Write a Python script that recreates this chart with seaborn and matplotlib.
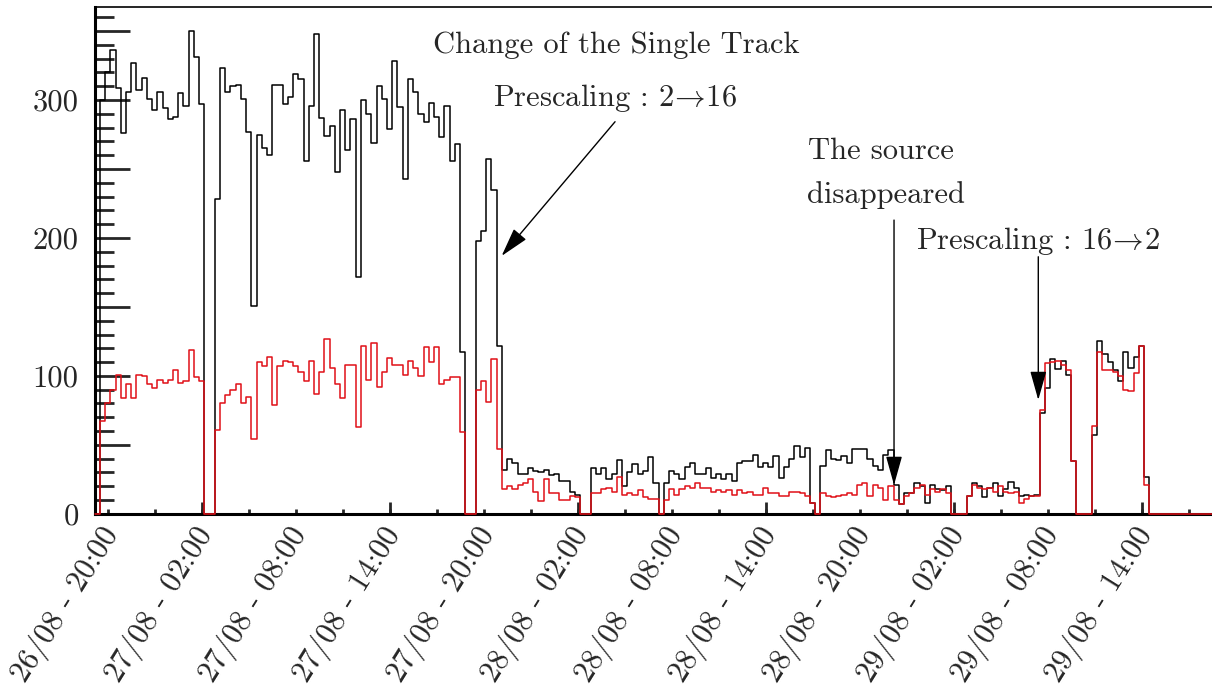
import numpy as np
import pandas as pd
import seaborn as sns
import matplotlib.pyplot as plt
from matplotlib.ticker import MultipleLocator
from matplotlib.transforms import ScaledTranslation

# Style: ROOT-like frame, Computer Modern text
sns.set_style("white")
plt.rcParams['font.family'] = ['cmr10']
plt.rcParams['mathtext.fontset'] = 'cm'
plt.rcParams['axes.unicode_minus'] = False
plt.rcParams['axes.formatter.use_mathtext'] = True

# Time axis in hours since 26/08 20:00, 20 minute bins
first_edge = -5 / 6
bin_width = 1 / 3

# Trigger rates per bin (black: all triggers, red: single track)
black_rate = [0,
    300, 320, 336, 309, 276, 306, 327, 307, 316, 301,
    293, 306, 294, 286, 288, 305, 296, 350, 331, 297,
    0, 0, 228, 323, 306, 310, 311, 301, 277, 151,
    275, 265, 260, 311, 311, 297, 302, 319, 315, 256,
    296, 348, 287, 274, 281, 248, 293, 264, 286, 172,
    300, 290, 269, 310, 301, 279, 328, 295, 243, 315,
    306, 290, 284, 298, 288, 273, 296, 256, 268, 117,
    0, 0, 198, 205, 257, 235, 122, 32, 40, 37,
    29, 29, 33, 31, 30, 32, 28, 29, 24, 24,
    16, 14, 0, 0, 33, 29, 33, 25, 29, 39,
    20, 30, 36, 29, 31, 41, 22, 0, 22, 31,
    29, 25, 34, 37, 29, 29, 33, 26, 29, 25,
    29, 24, 37, 38, 38, 43, 34, 37, 34, 42,
    26, 34, 40, 49, 41, 48, 8, 0, 35, 46,
    40, 39, 42, 37, 47, 47, 47, 40, 35, 32,
    43, 46, 21, 7, 15, 15, 22, 20, 8, 21,
    18, 17, 20, 0, 0, 0, 13, 22, 20, 12,
    19, 22, 13, 18, 23, 19, 13, 14, 13, 14,
    73, 91, 112, 105, 111, 101, 38, 0, 0, 0,
    57, 125, 116, 110, 104, 96, 117, 106, 114, 122,
    27,
    0, 0, 0, 0, 0, 0, 0, 0, 0, 0, 0, 0]

red_rate = [0,
    67, 80, 90, 101, 84, 94, 84, 101, 100, 94,
    91, 97, 95, 97, 104, 95, 96, 119, 99, 96,
    0, 0, 61, 80, 86, 90, 94, 80, 85, 54,
    110, 107, 114, 79, 107, 111, 110, 107, 103, 96,
    111, 87, 103, 127, 106, 94, 84, 108, 108, 63,
    122, 97, 124, 92, 103, 113, 108, 108, 101, 111,
    106, 100, 121, 110, 121, 94, 97, 99, 99, 59,
    0, 0, 90, 96, 81, 112, 47, 18, 20, 18,
    21, 22, 25, 16, 9, 25, 15, 15, 10, 10,
    13, 12, 0, 0, 15, 15, 18, 19, 16, 27,
    14, 15, 14, 17, 12, 11, 11, 0, 10, 18,
    14, 18, 20, 19, 22, 19, 19, 16, 17, 16,
    17, 14, 17, 15, 16, 14, 14, 19, 15, 15,
    13, 13, 16, 16, 15, 13, 8, 0, 15, 13,
    12, 13, 14, 15, 14, 21, 22, 13, 21, 19,
    10, 20, 10, 7, 13, 15, 19, 21, 14, 18,
    16, 18, 15, 0, 0, 0, 13, 21, 19, 18,
    19, 16, 20, 16, 15, 16, 8, 11, 13, 13,
    75, 109, 110, 111, 108, 104, 38, 0, 0, 0,
    64, 117, 104, 104, 103, 100, 90, 89, 102, 122,
    21,
    0, 0, 0, 0, 0, 0, 0, 0, 0, 0, 0, 0]

x_tick_hours = [0, 6, 12, 18, 24, 30, 36, 42, 48, 54, 60, 66]
x_tick_labels = ['26/08 - 20:00', '27/08 - 02:00', '27/08 - 08:00', '27/08 - 14:00',
                 '27/08 - 20:00', '28/08 - 02:00', '28/08 - 08:00', '28/08 - 14:00',
                 '28/08 - 20:00', '29/08 - 02:00', '29/08 - 08:00', '29/08 - 14:00']
long_tick_hours = [6, 18, 30, 42, 54, 66]
y_ticks = [0, 50, 100, 150, 200, 250, 300, 350]
y_tick_labels = ['0', '', '100', '', '200', '', '300', '']

edges = first_edge + bin_width * np.arange(len(black_rate) + 1)
df = pd.DataFrame({'hour': edges[:-1] + bin_width / 2,
                   'black': black_rate, 'red': red_rate})

fig = plt.figure(figsize=(12.12, 6.92), dpi=100)
ax = fig.add_axes([0.0781, 0.2575, 0.9219, 0.7318])

sns.histplot(data=df, x='hour', weights='black', bins=list(edges), element='step',
             fill=False, color='#000000', linewidth=1.1, ax=ax)
sns.histplot(data=df, x='hour', weights='red', bins=list(edges), element='step',
             fill=False, color='#e01018', linewidth=1.1, ax=ax)
for line in ax.lines:
    line.set_clip_on(False)
    line.set_zorder(3)

ax.set_xlim(edges[0], edges[-1])
ax.set_ylim(0, 367.2)
ax.set(xlabel=None, ylabel=None)

# Frame
ax.spines['right'].set_visible(False)
for side in ['left', 'bottom']:
    ax.spines[side].set_linewidth(2.2)
    ax.spines[side].set_color('black')
ax.spines['top'].set_linewidth(1.2)
ax.spines['top'].set_color('black')

# Y axis ticks
ax.set_yticks(y_ticks)
ax.set_yticklabels(y_tick_labels)
ax.yaxis.set_minor_locator(MultipleLocator(10))
ax.tick_params(axis='y', which='major', direction='in', length=25, width=2,
               pad=11.5, labelsize=22, left=True)
ax.tick_params(axis='y', which='minor', direction='in', length=14, width=2, left=True)

# X axis ticks
ax.set_xticks(x_tick_hours)
ax.set_xticklabels(x_tick_labels)
ax.xaxis.set_minor_locator(MultipleLocator(3))
ax.tick_params(axis='x', which='both', direction='in', length=3.6, width=2,
               labelsize=22, pad=6, bottom=True)
shift = ScaledTranslation(-6 / 72, 0, fig.dpi_scale_trans)
for label in ax.get_xticklabels():
    label.set_rotation(58)
    label.set_ha('right')
    label.set_va('top')
    label.set_rotation_mode('anchor')
    label.set_transform(label.get_transform() + shift)

sec = ax.secondary_xaxis('bottom')
sec.set_xticks(long_tick_hours)
sec.tick_params(axis='x', direction='in', length=9, width=2, labelbottom=False)
sec.spines['bottom'].set_visible(False)

# Annotations
arrow = dict(arrowstyle='-|>,head_length=1.0,head_width=0.28', color='black',
             lw=1.0, mutation_scale=18, shrinkA=0, shrinkB=0)
ax.text(32.44, 334, 'Change of the Single Track', ha='center', va='baseline', fontsize=22)
ax.text(32.39, 295.7, r'Prescaling : 2$\!\rightarrow\!$16', ha='center', va='baseline',
        fontsize=22)
ax.annotate('', xy=(25.15, 187), xytext=(32.39, 284.3), arrowprops=arrow)

ax.text(44.7, 257, 'The source', ha='left', va='baseline', fontsize=22)
ax.text(44.65, 225.4, 'disappeared', ha='left', va='baseline', fontsize=22)
ax.annotate('', xy=(50.2, 20.9), xytext=(50.2, 213), arrowprops=arrow)

ax.text(59.41, 191.8, r'Prescaling : 16$\!\rightarrow\!$2', ha='center', va='baseline',
        fontsize=22)
ax.annotate('', xy=(59.41, 82.5), xytext=(59.41, 186.4), arrowprops=arrow)

plt.savefig('out.png', dpi=100)
